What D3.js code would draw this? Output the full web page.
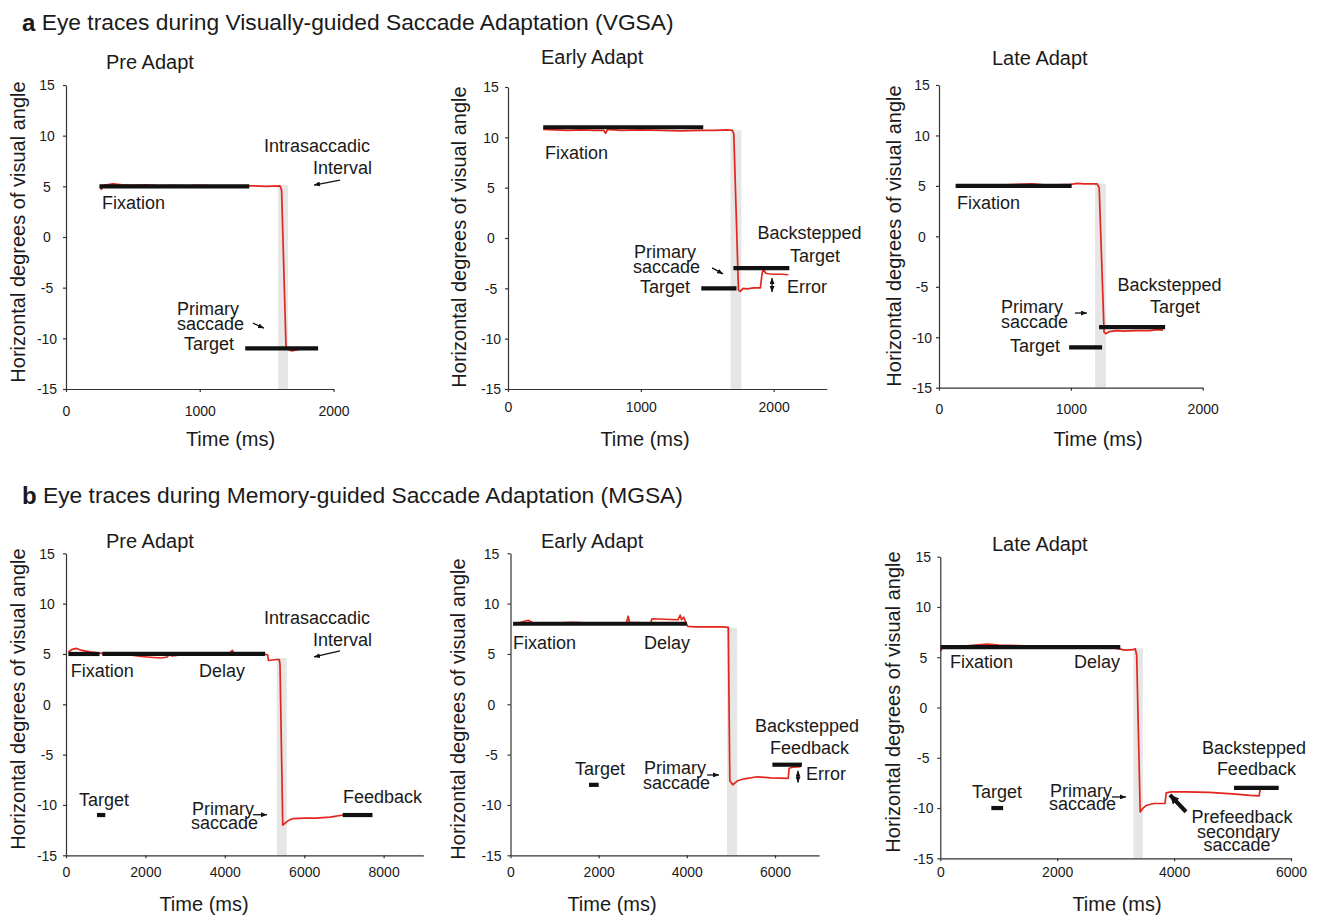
<!DOCTYPE html>
<html><head><meta charset="utf-8">
<script src="https://cdn.jsdelivr.net/npm/d3@7"></script>
<style>
body{margin:0;background:#fff}
svg{display:block}
text{font-family:"Liberation Sans", Arial, Helvetica, sans-serif; fill:#1a1a1a}
</style>
</head><body>
<svg id="chart" width="1317" height="917"></svg>
<script>
// ---------------- DATA ----------------
const sectionLetters = ["a", "b"];
const sectionTitles = [
  "Eye traces during Visually-guided Saccade Adaptation (VGSA)",
  "Eye traces during Memory-guided Saccade Adaptation (MGSA)"
];
const panelTitles = ["Pre Adapt", "Early Adapt", "Late Adapt", "Pre Adapt", "Early Adapt", "Late Adapt"];
const xAxisTitle = "Time (ms)";
const yAxisTitle = "Horizontal degrees of visual angle";

const yTicks = [-15, -10, -5, 0, 5, 10, 15];
const xTicksVGSA = [0, 1000, 2000];
const xTicksPreMGSA = [0, 2000, 4000, 6000, 8000];
const xTicksEarlyMGSA = [0, 2000, 4000, 6000];
const xTicksLateMGSA = [0, 2000, 4000, 6000];
const xDomainMax = [2000, 2400, 2000, 9000, 7000, 6000];

// eye traces: [time ms, degrees]
const tracePreVGSA = [[255,5.0],[265,4.7],[280,5.1],[350,5.25],[420,5.15],[500,5.1],[600,5.15],[700,5.05],[800,5.1],[900,5.05],[1000,5.1],[1100,5.05],[1200,5.0],[1300,5.05],[1400,5.05],[1500,5.0],[1600,5.05],[1612,4.6],[1645,-10.9],[1660,-11.1],[1690,-11.25],[1720,-11.15],[1760,-11.05],[1820,-11.0],[1880,-11.0]];
const traceEarlyVGSA = [[265,10.8],[350,10.75],[450,10.7],[550,10.75],[650,10.7],[720,10.7],[735,10.4],[750,10.8],[850,10.7],[1000,10.75],[1150,10.7],[1300,10.65],[1450,10.7],[1550,10.7],[1650,10.75],[1690,10.7],[1700,10.3],[1735,-5.15],[1748,-5.3],[1770,-5.0],[1800,-5.05],[1850,-4.95],[1900,-4.95],[1912,-3.6],[1922,-3.1],[1940,-3.5],[1960,-3.55],[2000,-3.6],[2060,-3.6],[2110,-3.65]];
const traceLateVGSA = [[137,5.05],[200,5.1],[300,5.05],[400,5.1],[500,5.1],[600,5.15],[700,5.2],[800,5.1],[900,5.1],[1000,5.15],[1050,5.25],[1100,5.2],[1200,5.2],[1215,4.8],[1252,-9.5],[1265,-9.65],[1290,-9.45],[1350,-9.35],[1400,-9.4],[1500,-9.35],[1600,-9.35],[1650,-9.25],[1700,-9.3]];
const tracePreMGSA = [[60,5.2],[150,5.45],[270,5.55],[400,5.35],[600,5.2],[800,5.1],[1000,5.0],[1300,5.0],[1600,4.9],[1900,4.75],[2200,4.65],[2400,4.6],[2550,4.7],[2620,5.1],[2660,4.8],[2900,4.9],[3300,4.95],[3700,4.95],[4100,5.0],[4190,5.35],[4250,4.95],[4600,5.0],[5000,5.0],[5080,4.9],[5100,4.35],[5300,4.45],[5370,4.45],[5390,4.0],[5460,-12.0],[5520,-11.8],[5600,-11.55],[5720,-11.35],[6000,-11.3],[6300,-11.3],[6650,-11.2],[6980,-11.0],[7300,-11.0],[7700,-11.0]];
const traceEarlyMGSA = [[60,7.9],[200,8.1],[400,8.35],[500,8.1],[800,8.05],[1100,8.1],[1400,8.15],[1700,8.1],[2000,8.05],[2300,8.1],[2630,8.1],[2670,8.75],[2700,8.15],[3000,8.1],[3180,8.1],[3210,8.5],[3500,8.45],[3800,8.4],[3850,8.85],[3880,8.4],[3930,8.65],[3980,8.1],[4020,7.75],[4200,7.7],[4500,7.7],[4800,7.7],[4940,7.65],[4975,-7.6],[5040,-8.0],[5150,-7.6],[5300,-7.4],[5600,-7.2],[5900,-7.3],[6300,-7.35],[6320,-6.35],[6400,-6.25],[6580,-6.2]];
const traceLateMGSA = [[0,5.6],[40,5.95],[150,6.0],[400,6.1],[600,6.2],[800,6.3],[1000,6.2],[1300,6.15],[1600,6.1],[1900,6.05],[2100,6.1],[2300,6.05],[2600,6.05],[2900,6.0],[3080,5.8],[3150,5.7],[3300,5.75],[3335,5.85],[3360,5.2],[3420,-10.4],[3470,-10.0],[3520,-9.75],[3650,-9.55],[3845,-9.55],[3865,-8.5],[3950,-8.4],[4200,-8.4],[4600,-8.45],[5000,-8.6],[5300,-8.75],[5455,-8.8],[5475,-8.05],[5600,-7.95],[5760,-7.95]];

// black stimulus bars: [start ms, end ms, degrees]
const barsPreVGSA = [[250,1370,5],[1340,1885,-11]];
const barsEarlyVGSA = [[265,1470,11],[1455,1720,-5],[1697,2118,-3]];
const barsLateVGSA = [[126,1006,5],[987,1237,-11],[1214,1715,-9]];
const barsPreMGSA = [[60,845,5],[915,5015,5],[780,990,-11],[6970,7720,-11]];
const barsEarlyMGSA = [[60,4000,8],[1780,2000,-8],[5940,6610,-6]];
const barsLateMGSA = [[0,3080,6],[873,1075,-10],[5025,5790,-8]];

// intrasaccadic interval (gray band): [start ms, end ms, top degrees]
const intervalPreVGSA = [1585, 1660, 5.1];
const intervalEarlyVGSA = [1675, 1757, 10.7];
const intervalLateVGSA = [1184, 1267, 5.2];
const intervalPreMGSA = [5310, 5560, 4.6];
const intervalEarlyMGSA = [4910, 5140, 7.6];
const intervalLateMGSA = [3305, 3465, 5.9];

// annotation texts: [label, time, degrees, anchor]
const notesPreVGSA = [["Fixation",269,3.35,"start"],["Intrasaccadic",2273,9.0,"end"],["Interval",2288,6.8,"end"],["Primary",830,-7.1,"start"],["saccade",830,-8.6,"start"],["Target",882,-10.57,"start"]];
const notesEarlyVGSA = [["Fixation",279,8.45,"start"],["Backstepped",2270,0.5,"middle"],["Target",2311,-1.78,"middle"],["Primary",949,-1.39,"start"],["saccade",941,-2.87,"start"],["Target",994,-4.86,"start"],["Error",2100,-4.86,"start"]];
const notesLateVGSA = [["Fixation",137,3.3,"start"],["Backstepped",1748,-4.82,"middle"],["Target",1790,-7.0,"middle"],["Primary",470,-7.0,"start"],["saccade",470,-8.49,"start"],["Target",538,-10.87,"start"]];
const notesPreMGSA = [["Fixation",118,3.31,"start"],["Delay",3350,3.31,"start"],["Intrasaccadic",7657,8.57,"end"],["Interval",7707,6.39,"end"],["Target",327,-9.5,"start"],["Primary",3174,-10.39,"start"],["saccade",3148,-11.78,"start"],["Feedback",6977,-9.2,"start"]];
const notesEarlyMGSA = [["Fixation",57,6.09,"start"],["Delay",3029,6.09,"start"],["Target",1463,-6.42,"start"],["Primary",3029,-6.33,"start"],["saccade",3006,-7.8,"start"],["Backstepped",5547,-2.15,"start"],["Feedback",5887,-4.33,"start"],["Error",6704,-6.9,"start"]];
const notesLateMGSA = [["Fixation",166,4.52,"start"],["Delay",2287,4.52,"start"],["Target",542,-8.41,"start"],["Primary",1877,-8.31,"start"],["saccade",1860,-9.6,"start"],["Backstepped",4476,-4.03,"start"],["Feedback",4732,-6.12,"start"],["Prefeedback",5162,-10.9,"middle"],["secondary",5102,-12.39,"middle"],["saccade",5076,-13.69,"middle"]];

// annotation arrows: [t1, v1, t2 (tip), v2 (tip), kind]
const arrowsPreVGSA = [[2049,5.62,1854,5.13,"thin"],[1398,-8.5,1480,-9.0,"thin"]];
const arrowsEarlyVGSA = [[1536,-2.97,1619,-3.57,"thin"],[1988,-3.97,1988,-5.36,"double"]];
const arrowsLateVGSA = [[1031,-7.6,1122,-7.6,"thin"]];
const arrowsPreMGSA = [[6901,5.3,6246,4.7,"thin"],[4710,-10.97,5063,-10.97,"thin"]];
const arrowsEarlyMGSA = [[4458,-7.02,4730,-7.02,"thin"],[6522,-6.59,6522,-7.78,"double"]];
const arrowsLateMGSA = [[2938,-8.9,3177,-8.9,"thin"],[4203,-10.37,3929,-8.7,"thick"]];

// ---------------- LAYOUT ----------------
const layout = [
  {x0:66,    x1:333.5, yTop:85,    yBot:389,   title:[106,62],  ylab:[18,232],  xlab:[230.5,439], yTickDx:-19, xTickDy:22},
  {x0:508,   x1:826.8, yTop:87,    yBot:389,   title:[541,57],  ylab:[459,237], xlab:[645,439],   yTickDx:-17, xTickDy:18},
  {x0:939,   x1:1202.7,yTop:85,    yBot:387.7, title:[992,58],  ylab:[894,236], xlab:[1098,439],  yTickDx:-17, xTickDy:21},
  {x0:66,    x1:423.3, yTop:553.3, yBot:855.3, title:[106,541], ylab:[18,699],  xlab:[204,904],   yTickDx:-19, xTickDy:17},
  {x0:510.5, x1:819.1, yTop:553.3, yBot:855.3, title:[541,541], ylab:[458,709], xlab:[612,904],   yTickDx:-19, xTickDy:17},
  {x0:940.3, x1:1291,  yTop:556.7, yBot:858.3, title:[992,544], ylab:[893,702], xlab:[1117,904],  yTickDx:-17, xTickDy:14}
];
const headingPos = [[22,22],[22,495]];

const panels = [
  {xt:xTicksVGSA, trace:tracePreVGSA, bars:barsPreVGSA, band:intervalPreVGSA, notes:notesPreVGSA, arrows:arrowsPreVGSA},
  {xt:xTicksVGSA, trace:traceEarlyVGSA, bars:barsEarlyVGSA, band:intervalEarlyVGSA, notes:notesEarlyVGSA, arrows:arrowsEarlyVGSA},
  {xt:xTicksVGSA, trace:traceLateVGSA, bars:barsLateVGSA, band:intervalLateVGSA, notes:notesLateVGSA, arrows:arrowsLateVGSA},
  {xt:xTicksPreMGSA, trace:tracePreMGSA, bars:barsPreMGSA, band:intervalPreMGSA, notes:notesPreMGSA, arrows:arrowsPreMGSA},
  {xt:xTicksEarlyMGSA, trace:traceEarlyMGSA, bars:barsEarlyMGSA, band:intervalEarlyMGSA, notes:notesEarlyMGSA, arrows:arrowsEarlyMGSA},
  {xt:xTicksLateMGSA, trace:traceLateMGSA, bars:barsLateMGSA, band:intervalLateMGSA, notes:notesLateMGSA, arrows:arrowsLateMGSA}
];

// ---------------- DRAW ----------------
const svg = d3.select("#chart");
const RED = "#e3261d";
const AX = "#333";

const defs = svg.append("defs");
function marker(id, len, wid) {
  defs.append("marker").attr("id", id)
    .attr("markerUnits", "userSpaceOnUse")
    .attr("viewBox", `0 0 ${len} ${wid}`)
    .attr("refX", len).attr("refY", wid / 2)
    .attr("markerWidth", len).attr("markerHeight", wid)
    .attr("orient", "auto-start-reverse")
    .append("path").attr("d", `M0,0L${len},${wid/2}L0,${wid}Z`).attr("fill", "#111");
}
marker("headThin", 6, 5);
marker("headThick", 9, 9);

// section headings
sectionTitles.forEach((t, i) => {
  const tx = svg.append("text").attr("x", headingPos[i][0]).attr("y", headingPos[i][1])
    .attr("dominant-baseline", "central").attr("font-size", 22.8);
  tx.append("tspan").attr("font-weight", "bold").attr("font-size", 24).text(sectionLetters[i]);
  tx.append("tspan").text(" " + t);
});

const tickFmt = d => String(d);

panels.forEach((p, i) => {
  const L = layout[i];
  const x = d3.scaleLinear().domain([0, xDomainMax[i]]).range([L.x0, L.x1]);
  const y = d3.scaleLinear().domain([-15, 15]).range([L.yBot, L.yTop]);
  const g = svg.append("g");

  // intrasaccadic interval
  g.append("rect")
    .attr("x", x(p.band[0])).attr("width", x(p.band[1]) - x(p.band[0]))
    .attr("y", y(p.band[2])).attr("height", y(-15) - y(p.band[2]))
    .attr("fill", "#e6e6e6");

  // red trace
  g.append("path").datum(p.trace)
    .attr("d", d3.line().x(d => x(d[0])).y(d => y(d[1])))
    .attr("fill", "none").attr("stroke", RED).attr("stroke-width", 1.7)
    .attr("stroke-linejoin", "round");

  // black bars
  g.selectAll(".bar").data(p.bars).join("line")
    .attr("x1", d => x(d[0])).attr("x2", d => x(d[1]))
    .attr("y1", d => y(d[2])).attr("y2", d => y(d[2]))
    .attr("stroke", "#111").attr("stroke-width", 4.2);

  // axes
  const ya = g.append("g").attr("transform", `translate(${L.x0},0)`)
    .call(d3.axisLeft(y).tickValues(yTicks).tickSize(3).tickSizeOuter(0).tickFormat(tickFmt));
  ya.selectAll("text").attr("text-anchor", "middle").attr("x", L.yTickDx).attr("dy", "0.35em")
    .attr("font-size", 14).attr("font-family", '"Liberation Sans", Arial, sans-serif').attr("fill", "#222");
  const xa = g.append("g").attr("transform", `translate(0,${L.yBot})`)
    .call(d3.axisBottom(x).tickValues(p.xt).tickSize(3).tickSizeOuter(0).tickFormat(tickFmt));
  xa.selectAll("text").attr("y", L.xTickDy).attr("dy", "0.35em")
    .attr("font-size", 14).attr("font-family", '"Liberation Sans", Arial, sans-serif').attr("fill", "#222");
  [ya, xa].forEach(a => {
    a.select(".domain").attr("stroke", AX).attr("stroke-width", 1.2);
    a.selectAll(".tick line").attr("stroke", AX).attr("stroke-width", 1.2);
  });

  // titles
  g.append("text").attr("x", L.title[0]).attr("y", L.title[1]).attr("dominant-baseline", "central")
    .attr("font-size", 20).text(panelTitles[i]);
  g.append("text").attr("transform", `translate(${L.ylab[0]},${L.ylab[1]}) rotate(-90)`)
    .attr("text-anchor", "middle").attr("dominant-baseline", "central").attr("font-size", 20).text(yAxisTitle);
  g.append("text").attr("x", L.xlab[0]).attr("y", L.xlab[1]).attr("text-anchor", "middle")
    .attr("dominant-baseline", "central").attr("font-size", 20).text(xAxisTitle);

  // annotation texts
  g.selectAll(".note").data(p.notes).join("text")
    .attr("x", d => x(d[1])).attr("y", d => y(d[2]))
    .attr("text-anchor", d => d[3]).attr("dominant-baseline", "central")
    .attr("font-size", 18).text(d => d[0]);

  // annotation arrows
  p.arrows.forEach(a => {
    const ln = g.append("line")
      .attr("x1", x(a[0])).attr("y1", y(a[1])).attr("x2", x(a[2])).attr("y2", y(a[3]))
      .attr("stroke", "#111");
    if (a[4] === "thick") {
      ln.attr("stroke-width", 4).attr("marker-end", "url(#headThick)");
    } else if (a[4] === "double") {
      ln.attr("stroke-width", 1.3).attr("marker-end", "url(#headThin)").attr("marker-start", "url(#headThin)");
    } else {
      ln.attr("stroke-width", 1.3).attr("marker-end", "url(#headThin)");
    }
  });
});
</script>
</body></html>
